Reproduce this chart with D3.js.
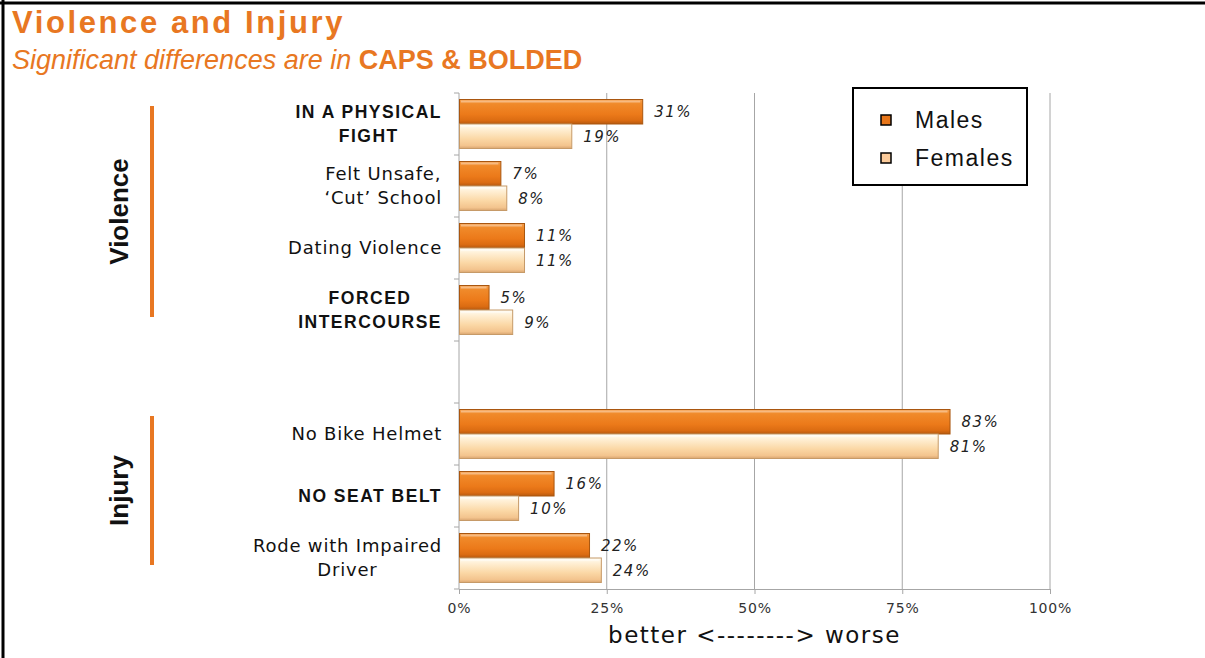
<!DOCTYPE html>
<html><head><meta charset="utf-8">
<script src="https://cdn.jsdelivr.net/npm/d3@7"></script>
<style>body{margin:0;background:#fff}svg{display:block}</style>
</head><body>
<script>
const categories = [
  {key:"fight", lines:["IN A PHYSICAL","FIGHT"], bold:true},
  {key:"unsafe", lines:["Felt Unsafe,","\u2018Cut\u2019 School"], bold:false},
  {key:"dating", lines:["Dating Violence"], bold:false},
  {key:"forced", lines:["FORCED","INTERCOURSE"], bold:true},
  {key:"gap", lines:[], bold:false},
  {key:"helmet", lines:["No Bike Helmet"], bold:false},
  {key:"seatbelt", lines:["NO SEAT BELT"], bold:true},
  {key:"impaired", lines:["Rode with Impaired","Driver"], bold:false}
];
const males   = [31, 7, 11, 5, null, 83, 16, 22];
const females = [19, 8, 11, 9, null, 81, 10, 24];
const xTicks = [0, 25, 50, 75, 100];
const groups = [
  {name:"Violence", from:"fight", to:"forced"},
  {name:"Injury", from:"helmet", to:"impaired"}
];
const seriesNames = ["Males","Females"];

const W = 1205, H = 658;
const svg = d3.select("body").append("svg").attr("width", W).attr("height", H);

const defs = svg.append("defs");
function grad(id, stops){
  const g = defs.append("linearGradient").attr("id", id).attr("x1",0).attr("y1",0).attr("x2",0).attr("y2",1);
  stops.forEach(s => g.append("stop").attr("offset", s[0]).attr("stop-color", s[1]));
}
grad("gM", [[0,"#F6A04E"],[0.18,"#F08A2A"],[0.6,"#EC7A1A"],[0.85,"#DC6C12"],[1,"#B85A10"]]);
grad("gF", [[0,"#FFFDF5"],[0.2,"#FFF0D6"],[0.6,"#FBD8A6"],[0.88,"#F3C48E"],[1,"#D9A570"]]);

// frame
svg.append("line").attr("x1",0).attr("x2",W).attr("y1",3).attr("y2",3).attr("stroke","#000").attr("stroke-width",3);
svg.append("line").attr("x1",3).attr("x2",3).attr("y1",0).attr("y2",H).attr("stroke","#000").attr("stroke-width",3);

// titles
svg.append("text").attr("x",12).attr("y",33).attr("fill","#E87722")
  .style("font-family","Liberation Sans, Arial, sans-serif").style("font-weight","bold")
  .style("font-size","31px").style("letter-spacing","2.6px").text("Violence and Injury");
const sub = svg.append("text").attr("x",12).attr("y",69).attr("fill","#E87722")
  .style("font-family","Liberation Sans, Arial, sans-serif").style("font-size","27px");
sub.append("tspan").style("font-style","italic").text("Significant differences are in ");
sub.append("tspan").style("font-weight","bold").text("CAPS & BOLDED");

// scales
const x = d3.scaleLinear().domain([0,100]).range([459, 1050]);
const y = d3.scaleBand().domain(categories.map(c=>c.key)).range([93, 589]);
const barH = 24.5;
const pad = (y.bandwidth() - 2*barH)/2;

// gridlines
svg.append("g").selectAll("line").data(xTicks.filter(t=>t>0)).join("line")
  .attr("x1", d=>x(d)).attr("x2", d=>x(d)).attr("y1", 93).attr("y2", 589)
  .attr("stroke","#A6A6A6").attr("stroke-width",1);

// x axis
const xAxis = svg.append("g").attr("transform","translate(0,589)")
  .call(d3.axisBottom(x).tickValues(xTicks).tickFormat(d=>d+"%").tickSize(5).tickSizeOuter(0));
xAxis.select(".domain").attr("stroke","#A6A6A6");
xAxis.selectAll(".tick line").attr("stroke","#A6A6A6");
xAxis.selectAll("text").attr("fill","#333").attr("dy","1.15em")
  .style("font-family","DejaVu Sans, Verdana, sans-serif").style("font-size","14px").style("letter-spacing","0.8px");

// y axis line + ticks
const yAxisG = svg.append("g");
yAxisG.append("line").attr("x1",459).attr("x2",459).attr("y1",93).attr("y2",589).attr("stroke","#A6A6A6");
const bounds = categories.map(c=>y(c.key)).concat([589]);
yAxisG.selectAll("line.t").data(bounds).join("line").attr("class","t")
  .attr("x1",454).attr("x2",459).attr("y1",d=>d).attr("y2",d=>d).attr("stroke","#A6A6A6");

// bars
function drawSeries(vals, fill, stroke, off){
  const data = categories.map((c,i)=>({c, v: vals[i]})).filter(d=>d.v!=null);
  svg.append("g").selectAll("rect").data(data).join("rect")
    .attr("x", x(0)+0.5).attr("y", d=>y(d.c.key)+pad+off)
    .attr("width", d=>x(d.v)-x(0)).attr("height", barH)
    .attr("fill", fill).attr("stroke", stroke).attr("stroke-width",1);
  svg.append("g").selectAll("line").data(data).join("line")
    .attr("x1", x(0)+2).attr("x2", d=>x(d.v)-2)
    .attr("y1", d=>y(d.c.key)+pad+off+2).attr("y2", d=>y(d.c.key)+pad+off+2)
    .attr("stroke","rgba(255,255,255,0.35)").attr("stroke-width",2);
  svg.append("g").selectAll("text").data(data).join("text")
    .attr("x", d=>x(d.v)+12).attr("y", d=>y(d.c.key)+pad+off+barH/2)
    .attr("dy","0.36em").attr("fill","#222")
    .style("font-family","DejaVu Sans, Verdana, sans-serif").style("font-style","italic")
    .style("font-size","15px").style("letter-spacing","1.5px").text(d=>d.v+"%");
}
drawSeries(males, "url(#gM)", "#A9560F", 0);
drawSeries(females, "url(#gF)", "#C69A68", barH);

// category labels
const labG = svg.append("g");
categories.forEach(c=>{
  if(!c.lines.length) return;
  const cy = y(c.key) + y.bandwidth()/2;
  const lh = 24;
  const t = labG.append("text").attr("fill","#111")
    .style("font-family", c.bold ? "Liberation Sans, Arial, sans-serif" : "DejaVu Sans, Verdana, sans-serif")
    .style("font-weight", c.bold ? "bold" : "normal")
    .style("font-size", c.bold ? "17.5px" : "18px")
    .style("letter-spacing", c.bold ? "1.5px" : "0.8px")
    .attr("text-anchor","middle");
  const spans = c.lines.map((l,i)=> t.append("tspan").attr("x",0)
    .attr("y", cy + (i - (c.lines.length-1)/2)*lh).attr("dy","0.36em").text(l));
  const maxW = d3.max(spans, s=>s.node().getComputedTextLength());
  const cx = 442 - maxW/2;
  spans.forEach(s=>s.attr("x", cx));
});

// group labels
groups.forEach(g=>{
  const y0 = y(g.from), y1 = y(g.to)+y.bandwidth();
  svg.append("line").attr("x1",152).attr("x2",152).attr("y1",y0+13).attr("y2",y1-24)
    .attr("stroke","#E87722").attr("stroke-width",4);
  const cy = (y0+13 + y1-24)/2;
  svg.append("text").attr("transform",`translate(128,${cy}) rotate(-90)`)
    .attr("text-anchor","middle").attr("fill","#111")
    .style("font-family","Liberation Sans, Arial, sans-serif").style("font-weight","bold")
    .style("font-size","26px").text(g.name);
});

// axis title
svg.append("text").attr("x", x(50)).attr("y", 643).attr("text-anchor","middle").attr("fill","#111")
  .style("font-family","DejaVu Sans, Verdana, sans-serif").style("font-size","23px").style("letter-spacing","1.5px")
  .text("better <--------> worse");

// legend
const lg = svg.append("g");
lg.append("rect").attr("x",853).attr("y",88).attr("width",174).attr("height",97)
  .attr("fill","#fff").attr("stroke","#000").attr("stroke-width",2);
const legFill = ["#E8761A","#FBCB9B"];
seriesNames.forEach((n,i)=>{
  const cy = 120 + i*38;
  lg.append("rect").attr("x",881).attr("y",cy-5).attr("width",10).attr("height",10)
    .attr("fill",legFill[i]).attr("stroke","#000").attr("stroke-width",1.5);
  lg.append("text").attr("x",915).attr("y",cy).attr("dy","0.36em").attr("fill","#111")
    .style("font-family","Liberation Sans, Arial, sans-serif").style("font-size","23px").style("letter-spacing","1.5px").text(n);
});
</script>
</body></html>
